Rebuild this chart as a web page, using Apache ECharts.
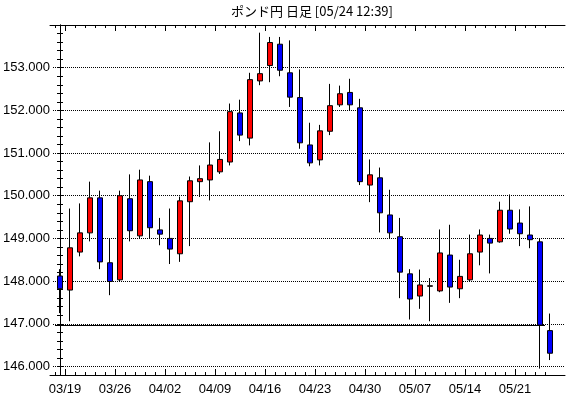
<!DOCTYPE html>
<html><head><meta charset="utf-8">
<script src="https://cdn.jsdelivr.net/npm/echarts@6/dist/echarts.min.js"></script>
<style>html,body{margin:0;padding:0;background:#fff}#c{width:570px;height:398px}</style>
</head><body><div id="c"></div>
<script>
// ---- data ----
const dates = ['03/16',
  '03/19','03/20','03/21','03/22','03/23',
  '03/26','03/27','03/28','03/29','03/30',
  '04/02','04/03','04/04','04/05','04/06',
  '04/09','04/10','04/11','04/12','04/13',
  '04/16','04/17','04/18','04/19','04/20',
  '04/23','04/24','04/25','04/26','04/27',
  '04/30','05/01','05/02','05/03','05/04',
  '05/07','05/08','05/09','05/10','05/11',
  '05/14','05/15','05/16','05/17','05/18',
  '05/21','05/22','05/23','05/24'];
const opens  = [148.12,147.79,148.68,149.13,149.95,148.43,148.03,149.93,149.06,150.33,
                149.20,149.00,148.64,149.86,150.33,150.37,150.56,150.79,151.94,151.35,
                152.69,153.05,153.55,152.88,152.30,151.19,150.84,151.51,152.13,152.42,
                152.06,150.25,150.42,149.55,149.04,148.17,147.65,147.88,147.77,148.61,
                147.82,148.03,148.68,149.00,148.92,149.66,149.36,149.08,148.92,146.84];
const highs  = [148.28,149.70,149.82,150.33,150.12,149.00,150.12,150.50,150.61,150.47,
                149.48,149.70,149.98,150.45,150.71,151.25,151.51,152.16,152.25,152.88,
                153.82,153.72,153.72,153.64,152.96,151.71,151.66,152.62,152.58,152.74,
                152.27,150.85,150.66,150.14,149.48,148.28,148.27,148.07,149.21,149.32,
                148.50,149.09,149.21,149.09,149.86,150.03,149.68,149.75,149.01,147.24];
const lows   = [147.25,147.06,148.58,148.93,148.28,147.67,148.00,148.93,149.00,149.00,
                148.84,148.40,148.45,148.82,149.97,149.89,150.51,150.71,151.28,151.18,
                152.59,152.66,152.80,152.08,151.10,150.69,150.71,151.42,152.08,151.99,
                150.25,149.85,149.14,149.01,147.60,147.10,147.35,147.06,147.74,147.49,
                147.60,148.00,148.37,148.18,148.90,149.11,148.82,148.77,145.95,146.15];
const closes = [147.82,148.78,149.13,149.95,148.45,147.99,150.00,149.18,150.37,149.25,
                149.10,148.75,149.88,150.35,150.40,150.72,150.85,151.97,151.42,152.72,
                152.86,153.59,152.94,152.31,151.24,150.77,151.52,152.11,152.39,152.13,
                150.33,150.49,149.60,149.13,148.21,147.58,147.91,147.89,148.66,147.86,
                148.11,148.64,149.08,148.89,149.66,149.22,149.11,148.97,146.97,146.31];
const tickLabels = ['03/19','03/26','04/02','04/09','04/16','04/23','04/30','05/07','05/14','05/21'];
const titleText = 'ポンド円 日足 [05/24 12:39]';

// ---- chart ----
const FONT = "'Liberation Sans Narrow','Liberation Sans',sans-serif";
const candleData = dates.map((d, i) => [i, opens[i], closes[i], lows[i], highs[i]]);
const majorPos = tickLabels.map(t => dates.indexOf(t) - 0.5);
const minorPos = dates.map((d, i) => i - 0.5);
const prevIdx = dates.length - 2;

const G = {left: 50, right: 5, top: 25, bottom: 23};
const yMin = 145.8, yMax = 154.0;
const pxPer = (398 - G.top - G.bottom) / (yMax - yMin);
const G1 = {left: 50, right: 5, top: G.top + (yMax - 153) * pxPer, bottom: G.bottom + (146 - yMin) * pxPer};

const black = '#000';
const xBase = {type: 'value', min: -1, max: 50.5, splitLine: {show: false}};
const chart = echarts.init(document.getElementById('c'));
chart.setOption({
  animation: false,
  backgroundColor: '#fff',
  title: {text: titleText, left: 307, textAlign: 'center', top: 0,
    textStyle: {fontSize: 13, fontWeight: 'normal', color: black, fontFamily: "'Noto Sans CJK JP'"}},
  grid: [
    Object.assign({}, G),
    Object.assign({}, G1),
    Object.assign({}, G)
  ],
  xAxis: [
    Object.assign({}, xBase, {gridIndex: 0, position: 'bottom',
      axisLine: {show: true, lineStyle: {color: black, width: 1}},
      axisTick: {show: true, inside: true, length: 6, customValues: majorPos, lineStyle: {color: black}},
      axisLabel: {show: true, customValues: majorPos, margin: 8, color: black, fontSize: 13, fontFamily: FONT,
        formatter: v => tickLabels[majorPos.findIndex(p => Math.abs(p - v) < 1e-6)] || ''}}),
    Object.assign({}, xBase, {gridIndex: 0, position: 'top',
      axisLine: {show: true, lineStyle: {color: black, width: 1}},
      axisTick: {show: true, inside: true, length: 6, customValues: majorPos, lineStyle: {color: black}},
      axisLabel: {show: false}}),
    Object.assign({}, xBase, {gridIndex: 1, show: false}),
    Object.assign({}, xBase, {gridIndex: 2, position: 'bottom',
      axisLine: {show: false},
      axisTick: {show: true, inside: true, length: 3, customValues: minorPos, lineStyle: {color: black}},
      axisLabel: {show: false}}),
    Object.assign({}, xBase, {gridIndex: 2, position: 'top',
      axisLine: {show: false},
      axisTick: {show: true, inside: true, length: 3, customValues: minorPos, lineStyle: {color: black}},
      axisLabel: {show: false}})
  ],
  yAxis: [
    {type: 'value', gridIndex: 0, position: 'left', min: yMin, max: yMax, interval: 0.2,
      axisLine: {show: true, lineStyle: {color: black}},
      axisTick: {show: true, inside: true, length: 3, lineStyle: {color: black}},
      axisLabel: {show: false}, splitLine: {show: false}},
    {type: 'value', gridIndex: 0, position: 'right', min: yMin, max: yMax, interval: 0.2,
      axisLine: {show: true, lineStyle: {color: black}},
      axisTick: {show: true, inside: true, length: 3, lineStyle: {color: black}},
      axisLabel: {show: false}, splitLine: {show: false}},
    {type: 'value', gridIndex: 1, position: 'left', min: 146, max: 153, interval: 1,
      axisLine: {show: false}, axisTick: {show: false},
      axisLabel: {show: true, margin: 3, color: black, fontSize: 13, fontFamily: FONT, formatter: v => v.toFixed(3)},
      splitLine: {show: true, lineStyle: {color: black, width: 1, type: [1, 1]}}},
    {type: 'value', gridIndex: 2, min: yMin, max: yMax, show: false}
  ],
  series: [{
    type: 'candlestick',
    xAxisIndex: 0, yAxisIndex: 0,
    encode: {x: 0, y: [1, 2, 3, 4]},
    data: candleData,
    barWidth: 6,
    itemStyle: {color: '#FF0000', color0: '#0000FF', borderColor: black, borderColor0: black, borderColorDoji: black, borderWidth: 1},
    markLine: {
      silent: true, symbol: ['none', 'none'], label: {show: false},
      lineStyle: {color: black, width: 1, type: 'solid'},
      data: [[{coord: [-0.5, closes[prevIdx]]}, {coord: [prevIdx + 0.5, closes[prevIdx]]}]]
    }
  }]
});
</script></body></html>
